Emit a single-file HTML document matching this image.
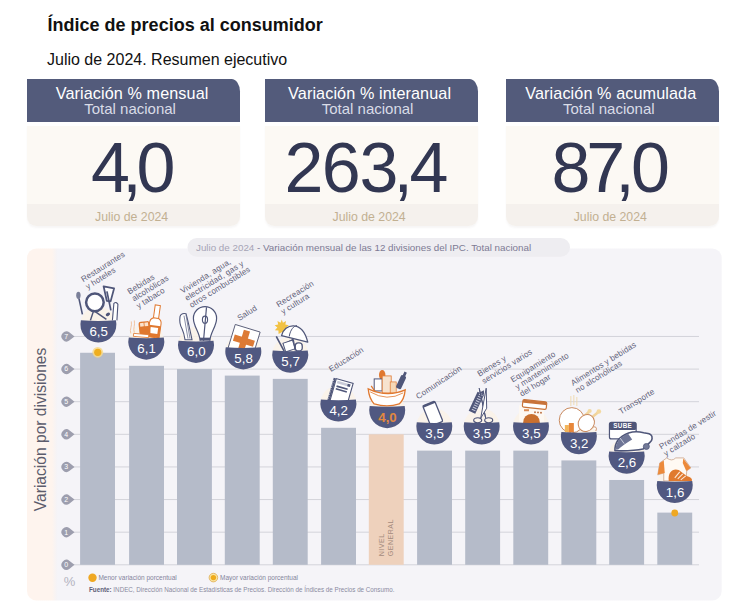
<!DOCTYPE html>
<html><head><meta charset="utf-8"><style>
*{margin:0;padding:0;box-sizing:border-box}
html,body{width:744px;height:612px;background:#fff;overflow:hidden;font-family:"Liberation Sans",sans-serif;position:relative}
.a{position:absolute;white-space:nowrap}
.t1{left:47.6px;top:14px;font-size:18px;font-weight:700;color:#111;line-height:22px}
.t2{left:47px;top:49.5px;font-size:16px;color:#111;line-height:20px}
.card{position:absolute;top:79px;width:213.2px;height:148px}
.hd{position:absolute;left:0;top:0;width:100%;height:42.7px;background:#535b7b;border-top-right-radius:8.5px 12.5px;color:#fff;text-align:center}
.hd .l1{position:absolute;left:-3px;right:0;top:3.6px;font-size:16.2px;letter-spacing:0.1px;line-height:20px}
.hd .l2{position:absolute;left:-7px;right:0;top:20.5px;font-size:15px;line-height:18px;color:#d9dce7}
.bd{position:absolute;left:0;top:47px;width:100%;height:100.3px;background:#fcf9f4;border-bottom-left-radius:9.5px;border-bottom-right-radius:9.5px;overflow:hidden;box-shadow:0 1.5px 2px rgba(120,110,100,0.06)}
.bd .ft{position:absolute;left:0;right:0;bottom:0;height:22.1px;background:#f5f1ed}
.bd .ftx{position:absolute;left:-4px;right:0;bottom:2.5px;text-align:center;font-size:12.3px;color:#c2b092;line-height:14px}
.g{position:absolute;top:132.5px;font-size:70px;color:#323752;line-height:70px}
.chart{position:absolute;left:0;top:0}
</style></head><body>
<div class="a t1">Índice de precios al consumidor</div>
<div class="a t2">Julio de 2024. Resumen ejecutivo</div>

<div class="card" style="left:27px">
  <div class="hd"><div class="l1">Variación % mensual</div><div class="l2">Total nacional</div></div>
  <div class="bd"><div class="ft"></div><div class="ftx">Julio de 2024</div></div>
</div>
<div class="card" style="left:264.5px">
  <div class="hd"><div class="l1">Variación % interanual</div><div class="l2">Total nacional</div></div>
  <div class="bd"><div class="ft"></div><div class="ftx">Julio de 2024</div></div>
</div>
<div class="card" style="left:505.7px">
  <div class="hd"><div class="l1">Variación % acumulada</div><div class="l2">Total nacional</div></div>
  <div class="bd"><div class="ft"></div><div class="ftx">Julio de 2024</div></div>
</div>

<div class="g" style="left:90.9px">4</div><div class="g" style="left:122.3px">,</div><div class="g" style="left:136.6px">0</div><div class="g" style="left:284.6px">2</div><div class="g" style="left:321.8px">6</div><div class="g" style="left:359.6px">3</div><div class="g" style="left:393.5px">,</div><div class="g" style="left:409.6px">4</div><div class="g" style="left:551.4px">8</div><div class="g" style="left:586.3px">7</div><div class="g" style="left:615.3px">,</div><div class="g" style="left:631.0px">0</div>
<svg class="chart" width="744" height="612" viewBox="0 0 744 612" font-family="Liberation Sans, sans-serif">
<defs><linearGradient id="pg" x1="0" x2="1" y1="0" y2="0"><stop offset="0" stop-color="#fef4ee"/><stop offset="0.036" stop-color="#fef4ee"/><stop offset="0.042" stop-color="#f6f3f5"/><stop offset="0.0445" stop-color="#f5f4f8"/><stop offset="1" stop-color="#f5f4f8"/></linearGradient></defs>
<rect x="27" y="248.4" width="694.7" height="352.2" rx="9.5" fill="url(#pg)"/>
<rect x="187.5" y="238" width="382.5" height="18.7" rx="9.3" fill="#eeedf1"/>
<text x="196" y="250.6" font-size="9.8" fill="#a6a4b6">Julio de 2024 <tspan fill="#7d7a94">- Variación mensual de las 12 divisiones del IPC. Total nacional</tspan></text>
<text transform="translate(46.3,511.2) rotate(-90)" font-size="15.6" fill="#5c5c6c">Variación por divisiones</text>
<line x1="72" x2="699" y1="564.80" y2="564.80" stroke="#d3d3da" stroke-width="1"/>
<line x1="72" x2="699" y1="532.18" y2="532.18" stroke="#d3d3da" stroke-width="1"/>
<line x1="72" x2="699" y1="499.56" y2="499.56" stroke="#d3d3da" stroke-width="1"/>
<line x1="72" x2="699" y1="466.94" y2="466.94" stroke="#d3d3da" stroke-width="1"/>
<line x1="72" x2="699" y1="434.32" y2="434.32" stroke="#d3d3da" stroke-width="1"/>
<line x1="72" x2="699" y1="401.70" y2="401.70" stroke="#d3d3da" stroke-width="1"/>
<line x1="72" x2="699" y1="369.08" y2="369.08" stroke="#d3d3da" stroke-width="1"/>
<line x1="72" x2="699" y1="336.46" y2="336.46" stroke="#d3d3da" stroke-width="1"/>
<rect x="80.10" y="352.77" width="34.9" height="212.03" fill="#b5bbc9"/>
<rect x="129.10" y="365.82" width="34.9" height="198.98" fill="#b5bbc9"/>
<rect x="177.00" y="369.08" width="34.9" height="195.72" fill="#b5bbc9"/>
<rect x="224.80" y="375.60" width="34.9" height="189.20" fill="#b5bbc9"/>
<rect x="272.80" y="378.87" width="34.9" height="185.93" fill="#b5bbc9"/>
<rect x="321.10" y="427.80" width="34.9" height="137.00" fill="#b5bbc9"/>
<rect x="368.80" y="434.32" width="34.9" height="130.48" fill="#eed1bc"/>
<rect x="417.10" y="450.63" width="34.9" height="114.17" fill="#b5bbc9"/>
<rect x="465.20" y="450.63" width="34.9" height="114.17" fill="#b5bbc9"/>
<rect x="513.30" y="450.63" width="34.9" height="114.17" fill="#b5bbc9"/>
<rect x="561.40" y="460.42" width="34.9" height="104.38" fill="#b5bbc9"/>
<rect x="609.20" y="479.99" width="34.9" height="84.81" fill="#b5bbc9"/>
<rect x="657.30" y="512.61" width="34.9" height="52.19" fill="#b5bbc9"/>
<path transform="translate(66.5,564.80)" d="M3.1,-3.9 A5,5 0 1 0 3.1,3.9 L8,0Z" fill="#9d9eae"/>
<text x="66.3" y="567.20" font-size="7" fill="#fff" text-anchor="middle">0</text>
<path transform="translate(66.5,532.18)" d="M3.1,-3.9 A5,5 0 1 0 3.1,3.9 L8,0Z" fill="#9d9eae"/>
<text x="66.3" y="534.58" font-size="7" fill="#fff" text-anchor="middle">1</text>
<path transform="translate(66.5,499.56)" d="M3.1,-3.9 A5,5 0 1 0 3.1,3.9 L8,0Z" fill="#9d9eae"/>
<text x="66.3" y="501.96" font-size="7" fill="#fff" text-anchor="middle">2</text>
<path transform="translate(66.5,466.94)" d="M3.1,-3.9 A5,5 0 1 0 3.1,3.9 L8,0Z" fill="#9d9eae"/>
<text x="66.3" y="469.34" font-size="7" fill="#fff" text-anchor="middle">3</text>
<path transform="translate(66.5,434.32)" d="M3.1,-3.9 A5,5 0 1 0 3.1,3.9 L8,0Z" fill="#9d9eae"/>
<text x="66.3" y="436.72" font-size="7" fill="#fff" text-anchor="middle">4</text>
<path transform="translate(66.5,401.70)" d="M3.1,-3.9 A5,5 0 1 0 3.1,3.9 L8,0Z" fill="#9d9eae"/>
<text x="66.3" y="404.10" font-size="7" fill="#fff" text-anchor="middle">5</text>
<path transform="translate(66.5,369.08)" d="M3.1,-3.9 A5,5 0 1 0 3.1,3.9 L8,0Z" fill="#9d9eae"/>
<text x="66.3" y="371.48" font-size="7" fill="#fff" text-anchor="middle">6</text>
<path transform="translate(66.5,336.46)" d="M3.1,-3.9 A5,5 0 1 0 3.1,3.9 L8,0Z" fill="#9d9eae"/>
<text x="66.3" y="338.86" font-size="7" fill="#fff" text-anchor="middle">7</text>
<text transform="translate(383.9,556.3) rotate(-90)" font-size="7" fill="#a48b7c" letter-spacing="0.55">NIVEL</text>
<text transform="translate(392.7,556.3) rotate(-90)" font-size="7" fill="#a48b7c" letter-spacing="0.55">GENERAL</text>
<circle cx="97.75" cy="352.3" r="5.4" fill="#f7d98a" opacity="0.85"/><circle cx="97.75" cy="352.3" r="3.6" fill="#efae1e"/>
<circle cx="674.75" cy="513.01" r="3.4" fill="#efa823"/>
<circle cx="98.40" cy="324.57" r="18" fill="#fbf3e6" opacity="0.8"/>
<g transform="translate(98.40,320.37)"><g transform="translate(1,0)">
 <path d="M-17,-6 L-20.5,-22" stroke="#4f5679" stroke-width="1.6" fill="none"/>
 <ellipse cx="-21" cy="-25" rx="2.2" ry="3.6" fill="#7a7f99"/>
 <path d="M-9,0 L-5,-12 M-6,-10 L7,-1" stroke="#4f5679" stroke-width="1.5" fill="none"/>
 <ellipse cx="8.5" cy="-6" rx="2.3" ry="1.6" fill="#4f5679" transform="rotate(-30 8.5 -6)"/>
 <path d="M13,0 L14.5,-17 Q17,-19 18.5,-16 L17.5,0" stroke="#4f5679" stroke-width="1.1" fill="#ffffff"/>
 <path d="M4.2,-34 L14.7,-32 L11.2,-19 L7.4,-19.6 Z" stroke="#4f5679" stroke-width="1.8" fill="#ffffff" stroke-linejoin="round"/>
 <path d="M7.5,-29 L11.5,-10" stroke="#4f5679" stroke-width="1.7"/>
 <circle cx="-4.5" cy="-18" r="8.8" fill="#ffffff" stroke="#4f5679" stroke-width="2.5"/>
 </g></g>
<path d="M80.90,320.37 Q98.40,321.87 115.90,320.37 A18,18 0 1 1 80.90,320.37Z" fill="#505881"/>
<text x="98.70" y="335.97" font-size="13.3" fill="#ffffff" font-weight="400" text-anchor="middle">6,5</text>
<circle cx="146.30" cy="341.62" r="18" fill="#fbf3e6" opacity="0.8"/>
<g transform="translate(146.30,337.42)"><path d="M-15.5,-4 C-17,-8 -14,-11 -15,-16 M-12,-5 C-13.5,-9 -11,-12 -12,-17" stroke="#f2bf98" stroke-width="0.9" fill="none"/>
 <g transform="translate(7,0) rotate(8)">
  <rect x="-2.6" y="-32.5" width="5.2" height="13.5" fill="#ffffff" stroke="#e0782f" stroke-width="1"/>
  <path d="M-2.6,-19.5 Q-5.8,-18 -5.8,-14.5 L-5.8,0 L5.8,0 L5.8,-14.5 Q5.8,-18 2.6,-19.5Z" fill="#ffffff" stroke="#e0782f" stroke-width="1"/>
  <rect x="-5.8" y="-12" width="11.6" height="12" fill="#e0782f"/>
  <rect x="-4" y="-10" width="7.5" height="6" fill="#ffffff"/>
 </g>
 <g transform="translate(-1.8,-9.2) rotate(-6)">
  <rect x="-5.5" y="-6.8" width="11" height="13.6" rx="2.5" fill="#e0782f"/>
  <rect x="-4" y="-5.5" width="3.6" height="3.6" fill="#fbe2cc"/><rect x="0.4" y="-5.5" width="3.6" height="3.6" fill="#fbe2cc"/>
 </g>
 <rect x="-12.8" y="-3.4" width="15.2" height="3" fill="#ffffff" stroke="#e0782f" stroke-width="0.8" transform="rotate(5 -5 -2)"/></g>
<path d="M128.80,337.42 Q146.30,338.92 163.80,337.42 A18,18 0 1 1 128.80,337.42Z" fill="#505881"/>
<text x="146.60" y="353.02" font-size="13.3" fill="#ffffff" font-weight="400" text-anchor="middle">6,1</text>
<circle cx="196.00" cy="344.88" r="18" fill="#fbf3e6" opacity="0.8"/>
<g transform="translate(196.00,340.68)"><path d="M-16,-24 Q-15,-28 -10,-27 Q-8,-20 -4,-1 L-11,-1 Q-12,-8 -14,-12 Q-17,-17 -16,-24Z" fill="#ffffff" stroke="#4f5679" stroke-width="1.1"/>
 <path d="M-12,-25 L-8,-2 M-10,-26 L-6,-2" stroke="#6b7190" stroke-width="0.8"/>
 <path d="M4,0 C4,-8 -2.6,-14 -2.6,-22.5 A11.6,11.6 0 1 1 20.6,-22.5 C20.6,-14 14,-8 14,0" fill="#ffffff" stroke="#4f5679" stroke-width="1.2"/>
 <path d="M10.5,-33.5 L7.5,0" stroke="#4f5679" stroke-width="1.2"/>
 <ellipse cx="9" cy="-21" rx="2.6" ry="3.6" fill="none" stroke="#4f5679" stroke-width="1.1"/>
 <rect x="4" y="-3" width="10" height="3" fill="#4f5679"/></g>
<path d="M178.50,340.68 Q196.00,342.18 213.50,340.68 A18,18 0 1 1 178.50,340.68Z" fill="#505881"/>
<text x="196.30" y="356.28" font-size="13.3" fill="#ffffff" font-weight="400" text-anchor="middle">6,0</text>
<circle cx="243.30" cy="351.40" r="18" fill="#fbf3e6" opacity="0.8"/>
<g transform="translate(243.30,347.20)"><g transform="translate(0.6,-6.5) rotate(17)">
  <rect x="-13" y="-13" width="26" height="26" fill="#ffffff" stroke="#5c607a" stroke-width="0.9"/>
  <rect x="-3.2" y="-10.5" width="6.4" height="21" fill="#dd7a35"/>
  <rect x="-10.5" y="-3.2" width="21" height="6.4" fill="#dd7a35"/>
 </g></g>
<path d="M225.80,347.20 Q243.30,348.70 260.80,347.20 A18,18 0 1 1 225.80,347.20Z" fill="#505881"/>
<text x="243.60" y="362.80" font-size="13.3" fill="#ffffff" font-weight="400" text-anchor="middle">5,8</text>
<circle cx="290.25" cy="354.67" r="18" fill="#fbf3e6" opacity="0.8"/>
<g transform="translate(290.25,350.47)"><path d="M-8.5,-31 L-7.3,-27.6 L-4.2,-29.4 L-4.9,-25.9 L-1.4,-25.2 L-4.1,-22.9 L-1.6,-20.3 L-5.2,-20 L-5.3,-16.4 L-8.5,-18.2 L-11.7,-16.4 L-11.8,-20 L-15.4,-20.3 L-12.9,-22.9 L-15.6,-25.2 L-12.1,-25.9 L-12.8,-29.4 L-9.7,-27.6Z" fill="#f2c244"/>
 <path d="M-14,-14 L-6,1" stroke="#4f5679" stroke-width="1.6"/>
 <path d="M-6.5,-6 L3,-11" stroke="#4f5679" stroke-width="1.6"/>
 <rect x="-6" y="-9" width="10" height="9" fill="#ffffff" stroke="#4f5679" stroke-width="1" transform="rotate(-18 -1 -4)"/>
 <rect x="5" y="-7.5" width="7" height="8" rx="3" fill="#ffffff" stroke="#4f5679" stroke-width="1.3"/>
 <path d="M3,-11 L5,0" stroke="#4f5679" stroke-width="1.3"/>
 <path d="M-8.7,-14.8 C-6,-27 12,-31 17.5,-8.3 Z" fill="#ffffff" stroke="#4f5679" stroke-width="1.3" stroke-linejoin="round"/>
 <path d="M-1,-14 C0,-21 4,-25 6.8,-24.8" stroke="#4f5679" stroke-width="1" fill="none"/></g>
<path d="M272.75,350.47 Q290.25,351.97 307.75,350.47 A18,18 0 1 1 272.75,350.47Z" fill="#505881"/>
<text x="290.55" y="366.07" font-size="13.3" fill="#ffffff" font-weight="400" text-anchor="middle">5,7</text>
<circle cx="338.40" cy="403.60" r="18" fill="#fbf3e6" opacity="0.8"/>
<g transform="translate(338.40,399.40)"><g transform="translate(2.6,-7) rotate(16)">
  <rect x="-11" y="-12" width="2.4" height="24" fill="#4f5679"/>
  <path d="M-10.5,-10 V10" stroke="#c9cbd8" stroke-width="0.8" stroke-dasharray="1.2 1.2"/>
  <rect x="-8.3" y="-12" width="17.5" height="24" fill="#ffffff" stroke="#4f5679" stroke-width="1.1"/>
  <rect x="-6.5" y="-10.2" width="13.5" height="2.6" fill="#c9cbd8"/>
  <rect x="4.2" y="-10.2" width="2.8" height="2.6" fill="#4f5679"/>
  <rect x="-6" y="-5.6" width="11.5" height="1.6" fill="#4f5679"/>
  <rect x="-6" y="-2.8" width="11.5" height="1.6" fill="#4f5679"/>
 </g></g>
<path d="M320.90,399.40 Q338.40,400.90 355.90,399.40 A18,18 0 1 1 320.90,399.40Z" fill="#505881"/>
<text x="338.70" y="415.00" font-size="13.3" fill="#ffffff" font-weight="400" text-anchor="middle">4,2</text>
<circle cx="387.20" cy="410.12" r="18" fill="#fbf3e6" opacity="0.8"/>
<g transform="translate(387.20,405.92)"><ellipse cx="-5" cy="-31" rx="3.2" ry="5" fill="#e0782f"/>
 <rect x="-13" y="-27" width="8" height="12" fill="#ffffff" stroke="#4f5679" stroke-width="1"/>
 <rect x="-5" y="-30" width="9" height="17" fill="#f7e3cf" stroke="#e0782f" stroke-width="0.8"/>
 <rect x="3" y="-24" width="6" height="11" fill="#f5d8b8" stroke="#e0782f" stroke-width="0.7"/>
 <path d="M-16,-20 L-12,-14" stroke="#e0782f" stroke-width="1.2"/>
 <g transform="translate(13,-22) rotate(25)"><rect x="-2.8" y="-9" width="5.6" height="14" rx="1.5" fill="#4f5679"/><rect x="-1.3" y="-13" width="2.6" height="5" fill="#4f5679"/></g>
 <path d="M-19,-17 Q0,-8 18,-16 Q17,-6 12,-2 Q0,2 -13,-2 Q-18,-7 -19,-17Z" fill="#ffffff" stroke="#e0782f" stroke-width="1.3"/>
 <path d="M-17,-14 Q0,-4 16,-13" stroke="#e0782f" stroke-width="0.8" fill="none"/></g>
<path d="M369.70,405.92 Q387.20,407.42 404.70,405.92 A18,18 0 1 1 369.70,405.92Z" fill="#505881"/>
<text x="387.50" y="421.52" font-size="13.3" fill="#e2883f" font-weight="700" text-anchor="middle">4,0</text>
<circle cx="434.30" cy="426.43" r="18" fill="#fbf3e6" opacity="0.8"/>
<g transform="translate(434.30,422.23)"><g transform="translate(-1.5,-8.6) rotate(-22)">
  <rect x="-6.5" y="-11" width="13" height="22" rx="1.5" fill="#ffffff" stroke="#4f5679" stroke-width="1.3"/>
  <rect x="-6.5" y="-11" width="13" height="2" fill="#4f5679"/>
 </g></g>
<path d="M416.80,422.23 Q434.30,423.73 451.80,422.23 A18,18 0 1 1 416.80,422.23Z" fill="#505881"/>
<text x="434.60" y="437.83" font-size="13.3" fill="#ffffff" font-weight="400" text-anchor="middle">3,5</text>
<circle cx="481.70" cy="426.43" r="18" fill="#fbf3e6" opacity="0.8"/>
<g transform="translate(481.70,422.23)"><g transform="translate(-5.3,-19.5) rotate(25)">
  <rect x="-3.6" y="-10.5" width="7.2" height="21" fill="#4f5679"/>
  <path d="M-1.4,-9 H2.6 M-1.4,-6.6 H2.6 M-1.4,-4.2 H2.6 M-1.4,-1.8 H2.6 M-1.4,0.6 H2.6 M-1.4,3 H2.6 M-1.4,5.4 H2.6 M-1.4,7.8 H2.6" stroke="#c7cadb" stroke-width="1"/>
  <path d="M3.6,-10.5 L1.5,-14.5 L-1.5,-10.5Z" fill="#4f5679"/>
 </g>
 <path d="M4,-4 L-2.5,-34 L1.5,-16 Z" fill="#ffffff" stroke="#4f5679" stroke-width="1" stroke-linejoin="round"/>
 <path d="M-1,-4 L4.5,-34 L5,-14 Z" fill="#ffffff" stroke="#4f5679" stroke-width="1" stroke-linejoin="round"/>
 <ellipse cx="-4" cy="-2" rx="4" ry="2.5" fill="none" stroke="#4f5679" stroke-width="1.2"/>
 <ellipse cx="7" cy="-2" rx="4" ry="2.5" fill="none" stroke="#4f5679" stroke-width="1.2"/></g>
<path d="M464.20,422.23 Q481.70,423.73 499.20,422.23 A18,18 0 1 1 464.20,422.23Z" fill="#505881"/>
<text x="482.00" y="437.83" font-size="13.3" fill="#ffffff" font-weight="400" text-anchor="middle">3,5</text>
<circle cx="531.00" cy="426.43" r="18" fill="#fbf3e6" opacity="0.8"/>
<g transform="translate(531.00,422.23)"><rect x="-12" y="-17" width="25" height="17" fill="#fdf8f2"/>
 <g transform="rotate(6 3 -17)">
  <rect x="-8.5" y="-21.5" width="24" height="7.5" rx="1.5" fill="#ffffff" stroke="#c8733a" stroke-width="1.2"/>
  <rect x="-8.5" y="-21.5" width="24" height="3.2" rx="1.2" fill="#c8733a"/>
 </g>
 <rect x="-7" y="-13" width="5" height="2" fill="#d98a55"/>
 <circle cx="4" cy="-10" r="0.9" fill="#b86838"/><circle cx="7" cy="-9.8" r="0.9" fill="#b86838"/><circle cx="10" cy="-9.5" r="0.9" fill="#b86838"/>
 <circle cx="0.5" cy="0" r="8.3" fill="#c9702f"/></g>
<path d="M513.50,422.23 Q531.00,423.73 548.50,422.23 A18,18 0 1 1 513.50,422.23Z" fill="#505881"/>
<text x="531.30" y="437.83" font-size="13.3" fill="#ffffff" font-weight="400" text-anchor="middle">3,5</text>
<circle cx="578.85" cy="436.22" r="18" fill="#fbf3e6" opacity="0.8"/>
<g transform="translate(578.85,432.02)"><path d="M-8,-36 L-8,-26 M-5,-37 L-5,-27 M-2,-35 L-2,-26" stroke="#efd9aa" stroke-width="0.9"/>
 <circle cx="-7" cy="-11.8" r="12.6" fill="#ffffff" stroke="#c98a5f" stroke-width="1"/>
 <path d="M11,-13 L19,-19.5 M3.5,-14 L10,-20" stroke="#f1d49c" stroke-width="2.6"/>
 <circle cx="20" cy="-20.5" r="2.3" fill="#f3d9a0"/><circle cx="10.8" cy="-21" r="2.1" fill="#f3d9a0"/>
 <ellipse cx="7.5" cy="-9" rx="7.8" ry="8.8" fill="#ffffff" stroke="#c98a5f" stroke-width="1" transform="rotate(35 7.5 -9)"/>
 <path d="M14,-5 Q19,-6 17,-1" stroke="#c98a5f" stroke-width="0.9" fill="#ffffff"/>
 <rect x="-14" y="-7" width="4" height="7" fill="#f2b45a"/>
 <rect x="-10" y="-9" width="5" height="9" fill="#e8873a"/></g>
<path d="M561.35,432.02 Q578.85,433.52 596.35,432.02 A18,18 0 1 1 561.35,432.02Z" fill="#505881"/>
<text x="579.15" y="447.62" font-size="13.3" fill="#ffffff" font-weight="400" text-anchor="middle">3,2</text>
<circle cx="626.65" cy="455.79" r="18" fill="#fbf3e6" opacity="0.8"/>
<g transform="translate(626.65,451.59)"><rect x="-17.2" y="-29.3" width="26.7" height="16.6" rx="2" fill="#ffffff" stroke="#4f5679" stroke-width="1.2"/>
 <rect x="-17.2" y="-29.3" width="26.7" height="7.8" rx="1.5" fill="#4f5679"/>
 <text x="-4" y="-23.2" font-size="6.3" font-weight="700" fill="#ffffff" text-anchor="middle" letter-spacing="0.3">SUBE</text>
 <path d="M-11.7,-0.8 C-12,-8 -8,-15 1.9,-18.7 C7,-20.3 13,-20 17,-18.8 C20,-18 22,-18.6 24,-17 C26.5,-15 25.5,-11 23.5,-9.5 L16.3,-2.5 C10,-1 2,-0.5 -11.7,-0.8Z" fill="#ffffff" stroke="#4f5679" stroke-width="1.6" stroke-linejoin="round"/>
 <path d="M-11,-1.8 C-11,-9 -7,-14.5 1.5,-17.8 L5.5,-12 C0,-9 -5,-5 -8.5,-2Z" fill="#6e7596"/>
 <path d="M-6.5,-13.5 L-2.5,-8" stroke="#d5d8e4" stroke-width="0.9"/>
 <circle cx="19.7" cy="-5.1" r="3" fill="#737a98" stroke="#4f5679" stroke-width="0.8"/></g>
<path d="M609.15,451.59 Q626.65,453.09 644.15,451.59 A18,18 0 1 1 609.15,451.59Z" fill="#505881"/>
<text x="626.95" y="467.19" font-size="13.3" fill="#ffffff" font-weight="400" text-anchor="middle">2,6</text>
<circle cx="674.75" cy="485.11" r="18" fill="#fbf3e6" opacity="0.8"/>
<g transform="translate(674.75,480.91)"><path d="M-15,-18 L-8,-23 Q-3,-19 1,-23 L9,-23 L16,-13 L12,-10 L11,0 L-11,0 L-11,-8 L-17,-6 Z" fill="#fffaf3" stroke="#caa58d" stroke-width="0.8"/>
 <path d="M-15,-18 L-11,-20.5 L-10,-8 L-17,-6.5 Z" fill="#ec8a3a"/>
 <path d="M8.5,-22.5 L16,-13 L11.5,-10 L8,-18Z" fill="#ec8a3a"/>
 <path d="M-6,0 C-7,-9 -2,-13 4,-11 L12,-5 C16,-4 18,-2 17,0 Z" fill="#e07a2f"/>
 <path d="M0,-3 L5,-9 M3,-2 L8,-7 M6,-1 L11,-5" stroke="#fbe8d8" stroke-width="1.1"/></g>
<path d="M657.25,480.91 Q674.75,482.41 692.25,480.91 A18,18 0 1 1 657.25,480.91Z" fill="#505881"/>
<text x="675.05" y="496.51" font-size="13.3" fill="#ffffff" font-weight="400" text-anchor="middle">1,6</text>
<text transform="translate(83.2,282.3) rotate(-32)" font-size="8.1" letter-spacing="0.15" fill="#5f6179"><tspan x="0" y="0.0">Restaurantes</tspan><tspan x="0" y="8.4">y hoteles</tspan></text>
<text transform="translate(129.5,294.5) rotate(-32)" font-size="8.1" letter-spacing="0.15" fill="#5f6179"><tspan x="0" y="0.0">Bebidas</tspan><tspan x="0" y="8.4">alcohólicas</tspan><tspan x="0" y="16.8">y tabaco</tspan></text>
<text transform="translate(182.5,293.8) rotate(-32)" font-size="8.1" letter-spacing="0.15" fill="#5f6179"><tspan x="0" y="0.0">Vivienda, agua,</tspan><tspan x="0" y="8.4">electricidad, gas y</tspan><tspan x="0" y="16.8">otros combustibles</tspan></text>
<text transform="translate(239.4,321.0) rotate(-32)" font-size="8.1" letter-spacing="0.15" fill="#5f6179"><tspan x="0" y="0.0">Salud</tspan></text>
<text transform="translate(278.5,307.40000000000003) rotate(-32)" font-size="8.1" letter-spacing="0.15" fill="#5f6179"><tspan x="0" y="0.0">Recreación</tspan><tspan x="0" y="8.4">y cultura</tspan></text>
<text transform="translate(331.1,372.1) rotate(-32)" font-size="8.1" letter-spacing="0.15" fill="#5f6179"><tspan x="0" y="0.0">Educación</tspan></text>
<text transform="translate(418.3,399.40000000000003) rotate(-34)" font-size="8.1" letter-spacing="0.15" fill="#5f6179"><tspan x="0" y="0.0">Comunicación</tspan></text>
<text transform="translate(479.5,376.8) rotate(-32)" font-size="8.1" letter-spacing="0.15" fill="#5f6179"><tspan x="0" y="0.0">Bienes y</tspan><tspan x="0" y="8.4">servicios varios</tspan></text>
<text transform="translate(512.8,382.6) rotate(-32)" font-size="8.1" letter-spacing="0.15" fill="#5f6179"><tspan x="0" y="0.0">Equipamiento</tspan><tspan x="0" y="8.4">y mantenimiento</tspan><tspan x="0" y="16.8">del hogar</tspan></text>
<text transform="translate(573.0,385.90000000000003) rotate(-32)" font-size="8.1" letter-spacing="0.15" fill="#5f6179"><tspan x="0" y="0.0">Alimentos y bebidas</tspan><tspan x="0" y="8.4">no alcohólicas</tspan></text>
<text transform="translate(621.1,414.40000000000003) rotate(-32)" font-size="8.1" letter-spacing="0.15" fill="#5f6179"><tspan x="0" y="0.0">Transporte</tspan></text>
<text transform="translate(661.3,449.40000000000003) rotate(-32)" font-size="8.1" letter-spacing="0.15" fill="#5f6179"><tspan x="0" y="0.0">Prendas de vestir</tspan><tspan x="0" y="8.4">y calzado</tspan></text>
<text x="63.8" y="585.6" font-size="13" fill="#b3b3c0">%</text>
<circle cx="92.5" cy="577.7" r="4.2" fill="#efa823"/>
<text x="98.4" y="580.2" font-size="6.5" fill="#84849c">Menor variación porcentual</text>
<circle cx="213.4" cy="577.6" r="4.3" fill="#f9e4a2" stroke="#dca543" stroke-width="0.7"/><circle cx="213.4" cy="577.6" r="2.7" fill="#efab1c"/>
<text x="220" y="580.2" font-size="6.5" fill="#84849c">Mayor variación porcentual</text>
<text x="89" y="592.1" font-size="6.28" fill="#8a8a9f"><tspan font-weight="700" fill="#5d5e78">Fuente:</tspan> INDEC, Dirección Nacional de Estadísticas de Precios. Dirección de Índices de Precios de Consumo.</text>
</svg>
</body></html>
